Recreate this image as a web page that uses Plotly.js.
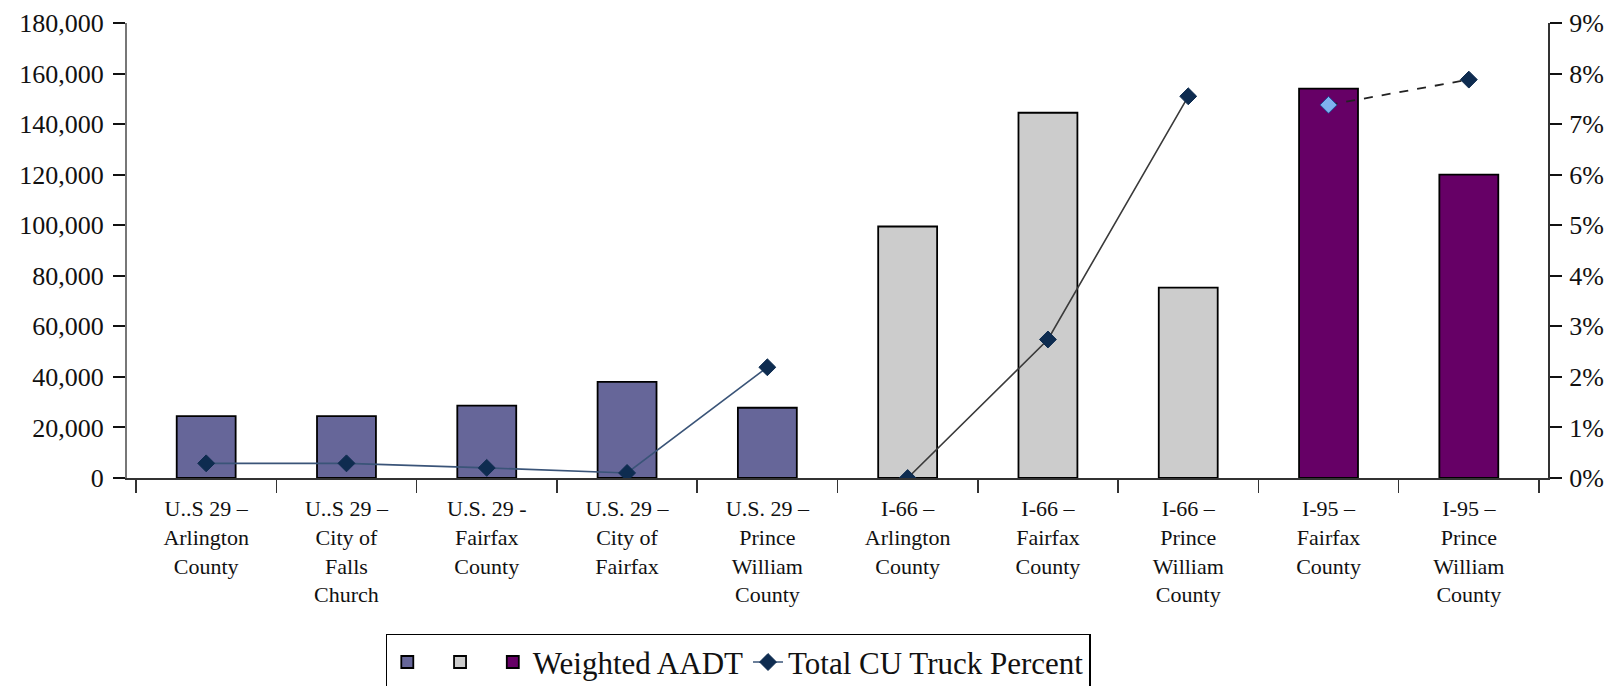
<!DOCTYPE html>
<html>
<head>
<meta charset="utf-8">
<script src="https://cdn.plot.ly/plotly-3.0.1.min.js"></script>
<style>html,body{margin:0;padding:0;background:#fff}#chart{width:1621px;height:686px}</style>
</head>
<body>
<div id="chart"></div>
<script>
const categories = [
  "U..S 29 –<br>Arlington<br>County",
  "U..S 29 –<br>City of<br>Falls<br>Church",
  "U.S. 29 -<br>Fairfax<br>County",
  "U.S. 29 –<br>City of<br>Fairfax",
  "U.S. 29 –<br>Prince<br>William<br>County",
  "I-66 –<br>Arlington<br>County",
  "I-66 –<br>Fairfax<br>County",
  "I-66 –<br>Prince<br>William<br>County",
  "I-95 –<br>Fairfax<br>County",
  "I-95 –<br>Prince<br>William<br>County"
];
const corridor = ["US29","US29","US29","US29","US29","I66","I66","I66","I95","I95"];
const weightedAADT = [24500, 24500, 28600, 38000, 27800, 99500, 144500, 75300, 154000, 120000];
const truckPercent = [0.0029, 0.0029, 0.0020, 0.0010, 0.0219, 0.0000, 0.0274, 0.0755, 0.0738, 0.0788];
const segmentOf = [0,0,0,0,0,1,1,1,2,2];

const corridorColors = {US29: "#666699", I66: "#CCCCCC", I95: "#660066"};
const corridorNames = {US29: " ", I66: " ", I95: "Weighted AADT"};
const FAM = "Liberation Serif";
const tickFont = {family: FAM, size: 26, color: "#111"};

const traces = [];
["US29","I66","I95"].forEach(c => {
  traces.push({
    type: "bar",
    x: categories,
    y: weightedAADT.map((v,i) => corridor[i] === c ? v : null),
    name: corridorNames[c],
    marker: {color: corridorColors[c], line: {color: "#000", width: 1.8}},
    width: 0.42,
    yaxis: "y",
    hoverinfo: "y"
  });
});

const segStyles = [
  {color: "#3A5478", width: 1.6, dash: "solid"},
  {color: "#3a3a3a", width: 1.6, dash: "solid"},
  {color: "#222222", width: 1.8, dash: "dash"}
];
[0,1,2].forEach(s => {
  traces.push({
    type: "scatter",
    mode: "lines+markers",
    x: categories,
    y: truckPercent.map((v,i) => segmentOf[i] === s ? v : null),
    connectgaps: false,
    name: "Total CU Truck Percent",
    showlegend: s === 0,
    yaxis: "y2",
    line: segStyles[s],
    marker: {
      symbol: "diamond",
      size: 13,
      color: truckPercent.map((v,i) => i === 8 ? "#7FB2F0" : "#0E2C50"),
      line: {color: truckPercent.map((v,i) => i === 8 ? "#1f4f9a" : "#0E2C50"), width: 1}
    }
  });
});

const layout = {
  width: 1621, height: 686,
  margin: {l: 127, r: 73, t: 23, b: 208},
  paper_bgcolor: "#fff", plot_bgcolor: "#fff",
  barmode: "overlay",
  showlegend: true,
  legend: {
    orientation: "h",
    xref: "container", yref: "container",
    x: 0.238, xanchor: "left",
    y: 0.076, yanchor: "top",
    bordercolor: "#000", borderwidth: 1.5,
    font: {family: FAM, size: 31, color: "#111"},
    traceorder: "normal",
    itemwidth: 30
  },
  xaxis: {
    type: "category",
    tickson: "boundaries",
    ticks: "outside", ticklen: 13, tickwidth: 1.5, tickcolor: "#333",
    showline: true, linecolor: "#333", linewidth: 2,
    showgrid: false, zeroline: false,
    tickfont: {family: FAM, size: 22, color: "#111"},
    ticklabelstandoff: 10,
    tickangle: 0
  },
  yaxis: {
    range: [0, 180000], dtick: 20000, tickformat: ",d",
    showgrid: false, zeroline: false,
    showline: true, linecolor: "#777", linewidth: 2,
    ticks: "outside", ticklen: 12, tickwidth: 2, tickcolor: "#111",
    tickfont: tickFont, ticklabelstandoff: 4
  },
  yaxis2: {
    range: [0, 0.09], dtick: 0.01, tickformat: ".0%",
    overlaying: "y", side: "right",
    showgrid: false, zeroline: false,
    showline: true, linecolor: "#333", linewidth: 2,
    ticks: "outside", ticklen: 12, tickwidth: 2, tickcolor: "#111",
    tickfont: tickFont, ticklabelstandoff: 2
  },
  yaxis3: {
    range: [0, 180000], dtick: 20000, overlaying: "y", side: "left",
    showgrid: false, zeroline: false, showline: false, showticklabels: false,
    ticks: "inside", ticklen: 12, tickwidth: 2, tickcolor: "#111"
  },
  yaxis4: {
    range: [0, 0.09], dtick: 0.01, overlaying: "y", side: "right",
    showgrid: false, zeroline: false, showline: false, showticklabels: false,
    ticks: "inside", ticklen: 12, tickwidth: 2, tickcolor: "#111"
  }
};

Plotly.newPlot("chart", traces, layout, {displayModeBar: false, staticPlot: true});
</script>
</body>
</html>
